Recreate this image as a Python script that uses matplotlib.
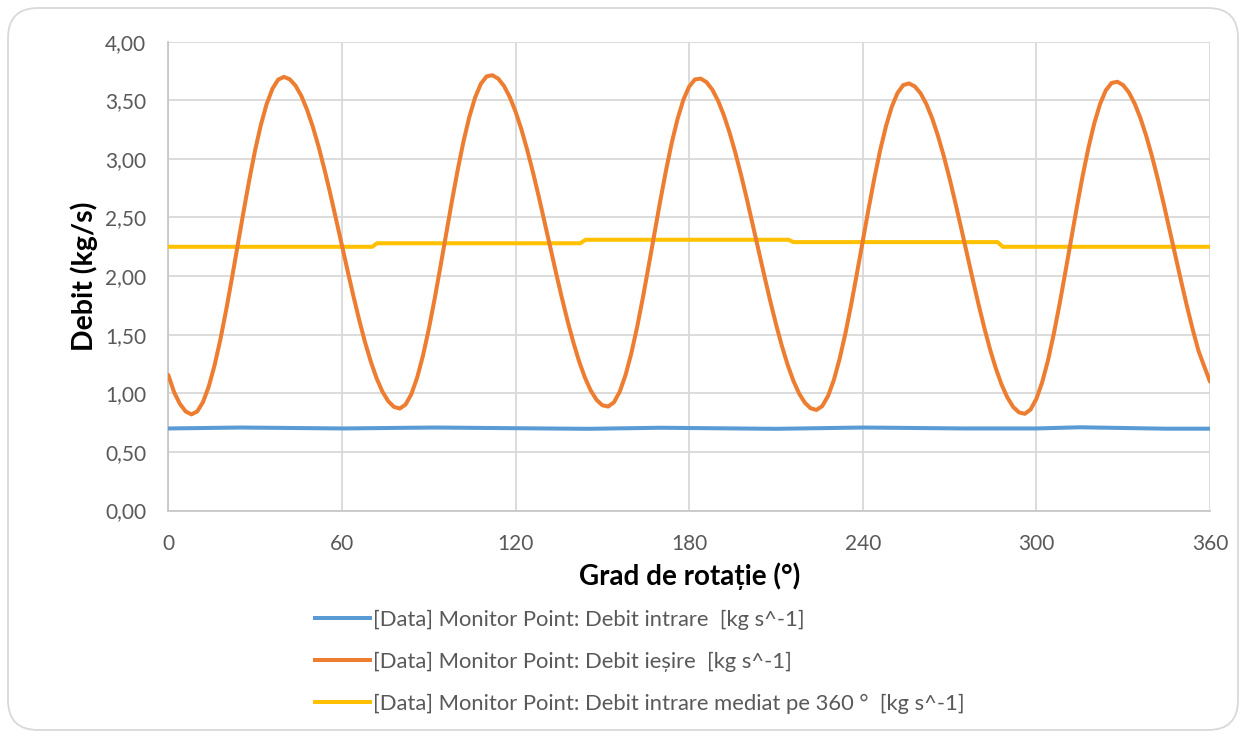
import matplotlib
matplotlib.use("Agg")
import matplotlib.pyplot as plt
from matplotlib.patches import FancyBboxPatch
from matplotlib.lines import Line2D
from matplotlib.ticker import FuncFormatter

plt.rcParams['font.family'] = ['Lato', 'DejaVu Sans']

# ---------------- data ----------------
x_ticks = [0, 60, 120, 180, 240, 300, 360]
y_ticks = [0, 0.5, 1.0, 1.5, 2.0, 2.5, 3.0, 3.5, 4.0]

# Debit intrare (blue)
in_deg = [0, 25, 60, 92, 130, 145, 170, 210, 240, 275, 300, 315, 345, 360]
in_val = [0.700, 0.708, 0.700, 0.708, 0.700, 0.697, 0.706, 0.697, 0.708, 0.700,
          0.700, 0.710, 0.698, 0.698]

# Debit iesire (orange), sampled every 2 degrees
out_deg = list(range(0, 361, 2))
out_val = [
    # 0 .. 38
    1.156, 1.010, 0.910, 0.845, 0.820, 0.845, 0.926, 1.059, 1.240, 1.459,
    1.711, 1.983, 2.267, 2.549, 2.822, 3.074, 3.291, 3.469, 3.599, 3.677,
    # 40 .. 78
    3.700, 3.679, 3.624, 3.536, 3.416, 3.270, 3.099, 2.907, 2.701, 2.484,
    2.263, 2.042, 1.827, 1.623, 1.435, 1.269, 1.127, 1.014, 0.933, 0.884,
    # 80 .. 110
    0.870, 0.904, 0.993, 1.134, 1.320, 1.545, 1.800, 2.074, 2.357, 2.637,
    2.904, 3.147, 3.355, 3.522, 3.640, 3.704,
    # 112 .. 150
    3.714, 3.685, 3.623, 3.528, 3.404, 3.254, 3.080, 2.888, 2.682, 2.466,
    2.246, 2.028, 1.816, 1.616, 1.433, 1.270, 1.133, 1.023, 0.944, 0.898,
    # 152 .. 182
    0.887, 0.923, 1.013, 1.154, 1.340, 1.562, 1.815, 2.085, 2.364, 2.640,
    2.901, 3.139, 3.342, 3.504, 3.617, 3.678,
    # 184 .. 222
    3.685, 3.655, 3.591, 3.496, 3.372, 3.222, 3.049, 2.857, 2.652, 2.437,
    2.218, 2.001, 1.790, 1.591, 1.408, 1.246, 1.108, 0.998, 0.919, 0.872,
    # 224 .. 254
    0.858, 0.891, 0.977, 1.113, 1.294, 1.511, 1.758, 2.025, 2.300, 2.573,
    2.834, 3.072, 3.277, 3.443, 3.562, 3.630,
    # 256 .. 294
    3.644, 3.618, 3.559, 3.467, 3.345, 3.196, 3.024, 2.833, 2.626, 2.411,
    2.191, 1.972, 1.760, 1.559, 1.374, 1.211, 1.073, 0.963, 0.883, 0.837,
    # 296 .. 326
    0.825, 0.862, 0.953, 1.094, 1.280, 1.505, 1.759, 2.032, 2.313, 2.591,
    2.856, 3.096, 3.303, 3.468, 3.585, 3.648,
    # 328 .. 360
    3.658, 3.629, 3.566, 3.470, 3.345, 3.193, 3.018, 2.824, 2.616, 2.399,
    2.178, 1.959, 1.747, 1.547, 1.364, 1.230, 1.100,
]

# Debit intrare mediat pe 360 (yellow)
avg_deg = [0, 70.5, 72.1, 142.4, 144.2, 214.4, 216.0, 286.6, 288.4, 360]
avg_val = [2.25, 2.25, 2.28, 2.28, 2.31, 2.31, 2.29, 2.29, 2.25, 2.25]

labels = ["[Data] Monitor Point: Debit intrare  [kg s^-1]",
          "[Data] Monitor Point: Debit ieșire  [kg s^-1]",
          "[Data] Monitor Point: Debit intrare mediat pe 360 °  [kg s^-1]"]
colors = ["#5B9BD5", "#ED7D31", "#FFC000"]

# ---------------- figure ----------------
W, H = 1246, 737
fig = plt.figure(figsize=(W / 100, H / 100), dpi=100)
fig.patch.set_facecolor("white")

border = FancyBboxPatch((0.08, 0.07), 12.30, 7.22,
                        boxstyle="round,pad=0,rounding_size=0.3",
                        transform=fig.dpi_scale_trans, fc="none",
                        ec="#D9D9D9", lw=1.3, zorder=0)
fig.patches.append(border)

left, right, top, bottom = 168.3, 1210.0, 41.7, 510.5
ax = fig.add_axes([left / W, 1 - bottom / H, (right - left) / W, (bottom - top) / H])
ax.set_facecolor("none")

lw = 2.9
ax.plot(in_deg, in_val, color=colors[0], lw=lw, solid_capstyle="round",
        solid_joinstyle="round", zorder=3)
ax.plot(out_deg, out_val, color=colors[1], lw=lw, solid_capstyle="round",
        solid_joinstyle="round", zorder=4)
ax.plot(avg_deg, avg_val, color=colors[2], lw=lw, solid_capstyle="round",
        solid_joinstyle="round", zorder=3)

ax.set_xlim(0, 360)
ax.set_ylim(0, 4)
ax.set_xticks(x_ticks)
ax.set_yticks(y_ticks)
ax.yaxis.set_major_formatter(FuncFormatter(lambda v, p: f"{v:.2f}".replace(".", ",")))
ax.grid(True, color="#D9D9D9", lw=1.3, zorder=0)
ax.set_axisbelow(True)
for s in ["top", "right"]:
    ax.spines[s].set_visible(False)
for s in ["left", "bottom"]:
    ax.spines[s].set_color("#C8C8C8")
    ax.spines[s].set_linewidth(1.3)
ax.tick_params(axis="both", length=0, labelsize=15, labelcolor="#595959")
ax.tick_params(axis="x", pad=17)
ax.tick_params(axis="y", pad=16)

ax.set_xlabel("Grad de rotație (°)", fontsize=20, fontweight="bold", color="black", labelpad=6)
ax.set_ylabel("Debit (kg/s)", fontsize=20.5, fontweight="bold", color="black", labelpad=5)

handles = [Line2D([0], [0], color=c, lw=lw) for c in colors]
leg = fig.legend(handles, labels, loc="upper left",
                 bbox_to_anchor=(315 / W, 1 - 609.5 / H), frameon=False,
                 fontsize=15.8, handlelength=2.5, handletextpad=0.15,
                 labelspacing=1.0, borderaxespad=0, borderpad=0)
for t in leg.get_texts():
    t.set_color("#595959")

fig.savefig("out.png", dpi=100, facecolor="white")
